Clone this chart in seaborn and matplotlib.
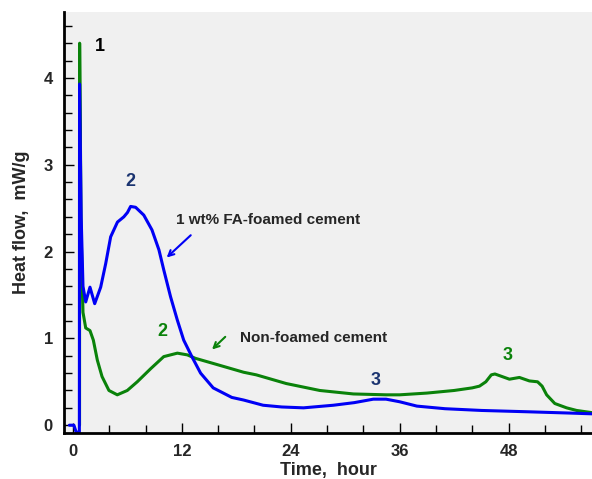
import numpy as np
import pandas as pd
import matplotlib
matplotlib.use("Agg")
import matplotlib.pyplot as plt
import seaborn as sns
from matplotlib.ticker import MultipleLocator

# Data
foamed_t = [-0.4, 0.1, 0.35, 0.7, 0.72, 0.9, 1.1, 1.4, 1.87, 2.39, 3.05, 3.6, 4.15, 4.9, 5.6,
            6.0, 6.35, 6.9, 7.8, 8.7, 9.47, 10.0, 10.75, 11.5, 12.2, 13.1, 14.06, 15.45, 17.5,
            18.8, 20.95, 23.0, 25.4, 28.7, 31.0, 33.1, 34.5, 36.0, 37.9, 41.0, 45.0, 50.0, 54.7, 57.5]
foamed_q = [0.0, 0.0, -0.08, -0.08, 3.93, 2.4, 1.6, 1.42, 1.59, 1.40, 1.59, 1.86, 2.17, 2.34, 2.40,
            2.45, 2.52, 2.51, 2.42, 2.25, 2.02, 1.79, 1.48, 1.21, 0.98, 0.79, 0.60, 0.43, 0.32,
            0.29, 0.23, 0.21, 0.20, 0.23, 0.26, 0.30, 0.30, 0.27, 0.22, 0.19, 0.17, 0.155, 0.14, 0.13]

plain_t = [0.72, 0.73, 0.9, 1.1, 1.4, 1.87, 2.24, 2.68, 3.2, 3.96, 4.88, 5.98, 7.08, 8.55, 10.0,
           11.5, 12.6, 13.5, 15.5, 18.8, 20.2, 23.5, 27.2, 30.9, 34.5, 36.0, 39.0, 42.0, 44.0,
           44.8, 45.5, 46.1, 46.5, 47.3, 48.1, 49.2, 50.3, 51.2, 51.7, 52.2, 53.1, 54.4, 55.5, 57.5]
plain_q = [0.0, 4.4, 2.2, 1.3, 1.12, 1.09, 0.98, 0.75, 0.56, 0.40, 0.35, 0.40, 0.50, 0.65, 0.79,
           0.83, 0.81, 0.77, 0.71, 0.61, 0.58, 0.48, 0.40, 0.36, 0.35, 0.35, 0.37, 0.40, 0.43,
           0.45, 0.50, 0.58, 0.59, 0.56, 0.53, 0.55, 0.51, 0.50, 0.45, 0.35, 0.25, 0.20, 0.17, 0.14]

series_names = ["Non-foamed cement", "1 wt% FA-foamed cement"]
x_ticks = [0, 12, 24, 36, 48]
y_ticks = [0, 1, 2, 3, 4]

df = pd.concat([
    pd.DataFrame({"t": plain_t, "q": plain_q, "s": series_names[0]}),
    pd.DataFrame({"t": foamed_t, "q": foamed_q, "s": series_names[1]}),
], ignore_index=True)

sns.set_style("ticks", {"axes.facecolor": "#f0f0f0"})
plt.rcParams["font.family"] = ["Liberation Sans", "DejaVu Sans"]

GREEN = "#0a820a"
BLUE = "#0000f5"
NAVY = "#1a3370"

fig = plt.figure(figsize=(5.92, 4.79), dpi=100)
ax = fig.add_axes([0.108, 0.096, 0.892, 0.879])

sns.lineplot(data=df, x="t", y="q", hue="s", estimator=None, sort=False,
             palette={series_names[0]: GREEN, series_names[1]: BLUE},
             hue_order=series_names, linewidth=2.2, legend=False, ax=ax)
for line in ax.get_lines():
    line.set_solid_joinstyle("round")

ax.set_xlim(-1, 57.2)
ax.set_ylim(-0.09, 4.76)
ax.set_xticks(x_ticks)
ax.set_yticks(y_ticks)
ax.xaxis.set_minor_locator(MultipleLocator(4))
ax.yaxis.set_minor_locator(MultipleLocator(0.2))
ax.tick_params(which="both", direction="in", width=1, color="black")
ax.tick_params(which="major", length=7, pad=8, labelsize=12)
ax.tick_params(which="minor", length=6)
for lab in ax.get_xticklabels() + ax.get_yticklabels():
    lab.set_fontweight("bold")

for side in ["top", "right"]:
    ax.spines[side].set_visible(False)
for side in ["left", "bottom"]:
    ax.spines[side].set_linewidth(2)
    ax.spines[side].set_color("black")

ax.set_xlabel("Time,  hour", fontsize=13, fontweight="bold", labelpad=2)
ax.set_ylabel("Heat flow,  mW/g", fontsize=13, fontweight="bold", labelpad=10)

# peak labels
ax.text(3.0, 4.36, "1", color="black", fontsize=13, fontweight="bold", ha="center", va="center")
ax.text(6.3, 2.81, "2", color=NAVY, fontsize=13, fontweight="bold", ha="center", va="center")
ax.text(9.9, 1.08, "2", color=GREEN, fontsize=13, fontweight="bold", ha="center", va="center")
ax.text(33.4, 0.52, "3", color=NAVY, fontsize=13, fontweight="bold", ha="center", va="center")
ax.text(47.9, 0.80, "3", color=GREEN, fontsize=13, fontweight="bold", ha="center", va="center")

ax.annotate("", xy=(10.1, 1.91), xytext=(13.2, 2.21),
            arrowprops=dict(arrowstyle="->", color=BLUE, lw=1.5))
ax.text(11.4, 2.36, series_names[1], fontsize=11, fontweight="bold", ha="left", va="center")
ax.annotate("", xy=(15.1, 0.85), xytext=(17.0, 1.04),
            arrowprops=dict(arrowstyle="->", color=GREEN, lw=1.5))
ax.text(18.4, 1.01, series_names[0], fontsize=11, fontweight="bold", ha="left", va="center")

fig.savefig("out.png", dpi=100)
